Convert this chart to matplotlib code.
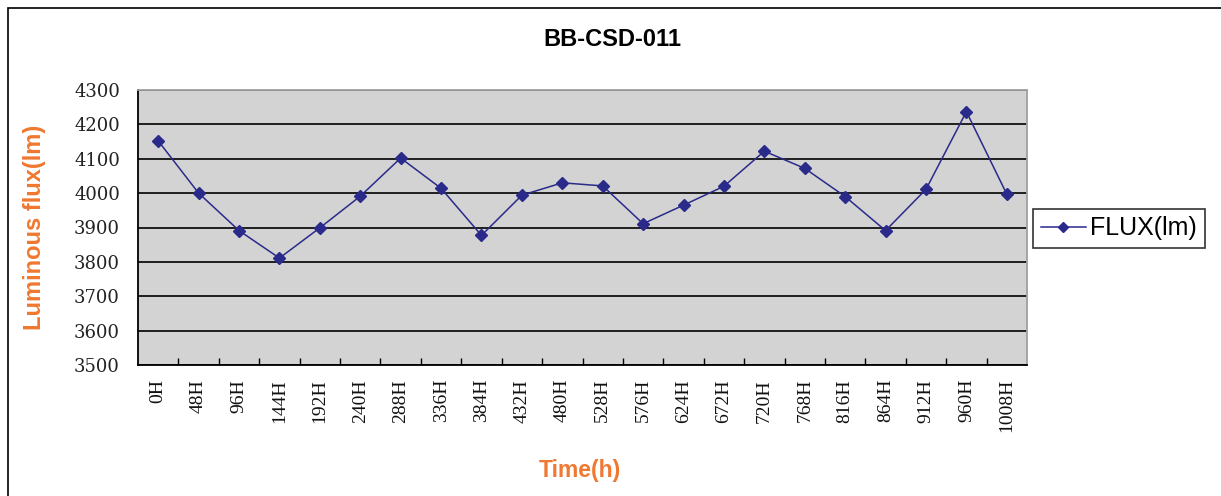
import matplotlib
matplotlib.use("Agg")
import matplotlib.pyplot as plt
from matplotlib.patches import Rectangle
from matplotlib.lines import Line2D

categories = ["0H", "48H", "96H", "144H", "192H", "240H", "288H", "336H", "384H",
              "432H", "480H", "528H", "576H", "624H", "672H", "720H", "768H",
              "816H", "864H", "912H", "960H", "1008H"]
flux = [4152, 4000, 3891, 3811, 3899, 3991, 4102, 4014, 3877, 3994, 4030,
        4021, 3911, 3965, 4020, 4122, 4072, 3990, 3891, 4011, 4237, 3997]
yticks = [3500, 3600, 3700, 3800, 3900, 4000, 4100, 4200, 4300]

W, H = 1221, 496
fig = plt.figure(figsize=(W / 100, H / 100), dpi=100)
fig.patch.set_facecolor("white")

# outer chart-area frame
fig.add_artist(Rectangle((8 / W, -0.05), 1.05, 1 - 8 / H + 0.05, transform=fig.transFigure,
                         fill=False, edgecolor="black", linewidth=1.2))

ax = fig.add_axes([138 / W, 1 - 365 / H, (1027 - 138) / W, (365 - 90) / H])
ax.set_facecolor("#D3D3D3")

x = list(range(len(categories)))
line_color = "#2A2A8A"
ax.plot(x, flux, color=line_color, linewidth=1.1, marker="D", markersize=6.5,
        markerfacecolor=line_color, markeredgecolor=line_color, zorder=3)

ax.set_xlim(-0.5, len(categories) - 0.5)
ax.set_ylim(3500, 4300)
ax.set_yticks(yticks)
ax.set_yticklabels([str(v) for v in yticks], fontfamily="DejaVu Serif", fontsize=13,
                   color="#222222")
ax.tick_params(axis="y", length=0, pad=13)
ax.grid(axis="y", color="black", linewidth=1.2)
ax.set_axisbelow(True)

# x ticks at category boundaries, labels at centers
ax.set_xticks([i + 0.5 for i in x[:-1]], minor=False)
ax.set_xticklabels([])
ax.set_xticks(x, minor=True)
ax.set_xticklabels(categories, minor=True, rotation=90, fontfamily="Liberation Serif",
                   fontsize=14, color="#111111")
ax.tick_params(axis="x", which="major", direction="in", length=5, width=1, color="black")
ax.tick_params(axis="x", which="minor", length=0, pad=10)
for lbl in ax.get_xticklabels(minor=True):
    lbl.set_verticalalignment("top")
    lbl.set_horizontalalignment("center")

for s in ["left", "bottom"]:
    ax.spines[s].set_color("black")
    ax.spines[s].set_linewidth(1.3)
for s in ["top", "right"]:
    ax.spines[s].set_color("#A0A0A0")
    ax.spines[s].set_linewidth(1.3)

fig.text(612 / W, 1 - 40 / H, "BB-CSD-011", ha="center", va="center",
         fontfamily="Liberation Sans", fontweight="bold", fontsize=17)
fig.text(35 / W, 1 - 227 / H, "Luminous flux(lm)", ha="center", va="center", rotation=90,
         fontfamily="Liberation Sans", fontweight="bold", fontsize=17, color="#F07830")
fig.text(580 / W, 1 - 471 / H, "Time(h)", ha="center", va="center",
         fontfamily="Liberation Sans", fontweight="bold", fontsize=16.5, color="#F07830")

handle = Line2D([], [], color=line_color, linewidth=1.1, marker="D", markersize=5.5,
                markerfacecolor=line_color, markeredgecolor=line_color)
leg = fig.legend([handle], ["FLUX(lm)"], loc="upper left",
                 bbox_to_anchor=(1033 / W, 1 - 209 / H), frameon=True, fancybox=False,
                 edgecolor="black", prop={"family": "Liberation Sans", "size": 18},
                 handlelength=1.8, handletextpad=0.2, borderpad=0.3, borderaxespad=0)
leg.get_frame().set_linewidth(1.2)

fig.savefig("out.png", dpi=100)
